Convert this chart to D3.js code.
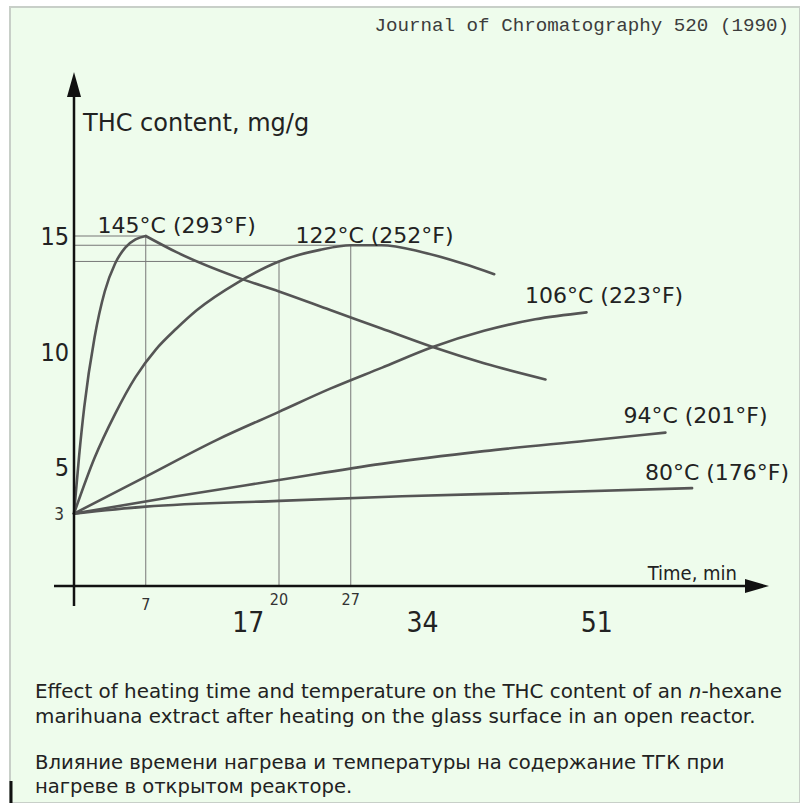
<!DOCTYPE html>
<html>
<head>
<meta charset="utf-8">
<script src="https://cdn.jsdelivr.net/npm/d3@7"></script>
<style>
  body { margin: 0; background: #fff; }
  svg { display: block; }
</style>
</head>
<body>
<div id="chart"></div>
<script>
// data (time in min, THC in mg/g)
var t145rise = [0, 0.5, 1, 2, 3, 4, 5, 6, 7];
var v145rise = [3, 5.5, 7.6, 10.6, 12.6, 13.8, 14.5, 14.85, 15];
var t145fall = [7, 10, 16, 20, 25, 30, 35, 40, 46];
var v145fall = [15, 14.3, 13.2, 12.6, 11.8, 11.0, 10.2, 9.5, 8.8];
var t122 = [0, 2, 4, 6, 8, 10, 12, 16, 20, 24, 27, 30, 34, 38, 41];
var v122 = [3, 5.4, 7.3, 8.9, 10.1, 11.0, 11.8, 13.0, 13.9, 14.4, 14.6, 14.6, 14.3, 13.8, 13.35];
var t106 = [0, 7, 14, 20, 25, 30, 35, 40, 45, 50];
var v106 = [3, 4.6, 6.2, 7.4, 8.4, 9.3, 10.2, 10.9, 11.4, 11.7];
var t94 = [0, 10, 20, 30, 40, 50, 57.7];
var v94 = [3, 3.75, 4.45, 5.15, 5.7, 6.15, 6.5];
var t80 = [0, 7, 20, 32, 45, 60.3];
var v80 = [3, 3.3, 3.55, 3.75, 3.9, 4.1];

var seriesLabels = ["145°C (293°F)", "122°C (252°F)", "106°C (223°F)", "94°C (201°F)", "80°C (176°F)"];
var yTicks = [15, 10, 5];
var smallYTick = 3;
var smallXTicks = [7, 20, 27];
var bigXTicks = [17, 34, 51];
// guide lines: [time, value] of the marked points
var guides = [[7, 15], [27, 14.6], [20, 13.9]];

var width = 800, height = 803;

var x = d3.scaleLinear().domain([0, 60]).range([74, 74 + 60 * 10.25]);
var y = d3.scaleLinear().domain([0, 15]).range([583, 236]);

var svg = d3.select("#chart").append("svg")
    .attr("width", width)
    .attr("height", height);

// panel
svg.append("rect")
    .attr("x", 10).attr("y", 7)
    .attr("width", width - 10).attr("height", height - 7)
    .attr("fill", "#eefcec")
    .attr("stroke", "#c8cfc8")
    .attr("stroke-width", 2);

svg.append("text")
    .attr("x", 789).attr("y", 31)
    .attr("text-anchor", "end")
    .style("font-family", "Liberation Mono, monospace")
    .style("font-size", "19.2px")
    .style("fill", "#3c3c3c")
    .text("Journal of Chromatography 520 (1990)");

// guide lines
guides.forEach(function(g) {
  svg.append("line")
      .attr("x1", x(0)).attr("x2", x(g[0]))
      .attr("y1", y(g[1])).attr("y2", y(g[1]))
      .attr("stroke", "#777").attr("stroke-width", 1);
  svg.append("line")
      .attr("x1", x(g[0])).attr("x2", x(g[0]))
      .attr("y1", y(g[1])).attr("y2", 587)
      .attr("stroke", "#777").attr("stroke-width", 1);
});

var line = d3.line()
    .x(function(d) { return x(d[0]); })
    .y(function(d) { return y(d[1]); })
    .curve(d3.curveMonotoneX);

function pairs(ts, vs) { return ts.map(function(t, i) { return [t, vs[i]]; }); }

var curves = [
  pairs(t145rise, v145rise),
  pairs(t145fall, v145fall),
  pairs(t122, v122),
  pairs(t106, v106),
  pairs(t94, v94),
  pairs(t80, v80)
];

svg.selectAll(".curve")
    .data(curves)
  .enter().append("path")
    .attr("class", "curve")
    .attr("d", line)
    .attr("fill", "none")
    .attr("stroke", "#555")
    .attr("stroke-width", 2.6)
    .attr("stroke-linecap", "round");

// axes
svg.append("line")
    .attr("x1", 74).attr("x2", 74)
    .attr("y1", 606).attr("y2", 90)
    .attr("stroke", "#111").attr("stroke-width", 2.5);
svg.append("path")
    .attr("d", "M74,72 L67,97 L81,97 Z")
    .attr("fill", "#111");
svg.append("line")
    .attr("x1", 54).attr("x2", 752)
    .attr("y1", 586).attr("y2", 586)
    .attr("stroke", "#111").attr("stroke-width", 2.5);
svg.append("path")
    .attr("d", "M769,586 L745,579 L745,593 Z")
    .attr("fill", "#111");

var font = "DejaVu Sans, sans-serif";
var fontC = "DejaVu Sans Condensed, DejaVu Sans, sans-serif";

svg.append("text")
    .attr("x", 83).attr("y", 131)
    .style("font-family", font).style("font-size", "24px").style("fill", "#222")
    .text("THC content, mg/g");
svg.append("text")
    .attr("x", 737).attr("y", 580)
    .attr("text-anchor", "end")
    .style("font-family", fontC).style("font-size", "20px").style("fill", "#222")
    .text("Time, min");

svg.selectAll(".ytick")
    .data(yTicks)
  .enter().append("text")
    .attr("x", 69)
    .attr("y", function(d) { return y(d) + 9; })
    .attr("text-anchor", "end")
    .style("font-family", fontC).style("font-size", "25px").style("fill", "#222")
    .text(function(d) { return d; });
svg.append("text")
    .attr("x", 64).attr("y", y(smallYTick) + 6)
    .attr("text-anchor", "end")
    .style("font-family", fontC).style("font-size", "17px").style("fill", "#333")
    .text(smallYTick);

svg.selectAll(".xsmall")
    .data(smallXTicks)
  .enter().append("text")
    .attr("x", function(d) { return x(d); })
    .attr("y", function(d, i) { return i == 0 ? 610 : 605; })
    .attr("text-anchor", "middle")
    .style("font-family", fontC).style("font-size", "16px").style("fill", "#333")
    .text(function(d) { return d; });
svg.selectAll(".xbig")
    .data(bigXTicks)
  .enter().append("text")
    .attr("x", function(d) { return x(d); })
    .attr("y", 632)
    .attr("text-anchor", "middle")
    .style("font-family", fontC).style("font-size", "28px").style("fill", "#222")
    .text(function(d) { return d; });

// series labels
var labelPos = [[2.3, 15.15], [21.6, 14.7], [44, 12.1], [53.6, 6.9], [55.7, 4.45]];
svg.selectAll(".slabel")
    .data(seriesLabels)
  .enter().append("text")
    .attr("x", function(d, i) { return x(labelPos[i][0]); })
    .attr("y", function(d, i) { return y(labelPos[i][1]); })
    .style("font-family", font).style("font-size", "22px").style("fill", "#222")
    .text(function(d) { return d; });

// caption (first line has an italic "n")
var captionY = [698, 723, 769, 793];
var cap1 = svg.append("text")
    .attr("x", 35).attr("y", captionY[0])
    .style("font-family", font).style("font-size", "19.9px").style("fill", "#222");
cap1.append("tspan").text("Effect of heating time and temperature on the THC content of an ");
cap1.append("tspan").style("font-style", "italic").text("n");
cap1.append("tspan").text("-hexane");

var caption = [
  "marihuana extract after heating on the glass surface in an open reactor.",
  "Влияние времени нагрева и температуры на содержание ТГК при",
  "нагреве в открытом реакторе."
];
svg.selectAll(".cap")
    .data(caption)
  .enter().append("text")
    .attr("x", 35)
    .attr("y", function(d, i) { return captionY[i + 1]; })
    .style("font-family", font)
    .style("font-size", function(d, i) { return i == 0 ? "19.9px" : "19.6px"; })
    .style("fill", "#222")
    .text(function(d) { return d; });

svg.append("line")
    .attr("x1", 11).attr("x2", 11)
    .attr("y1", 781).attr("y2", 803)
    .attr("stroke", "#111").attr("stroke-width", 3);
</script>
</body>
</html>
